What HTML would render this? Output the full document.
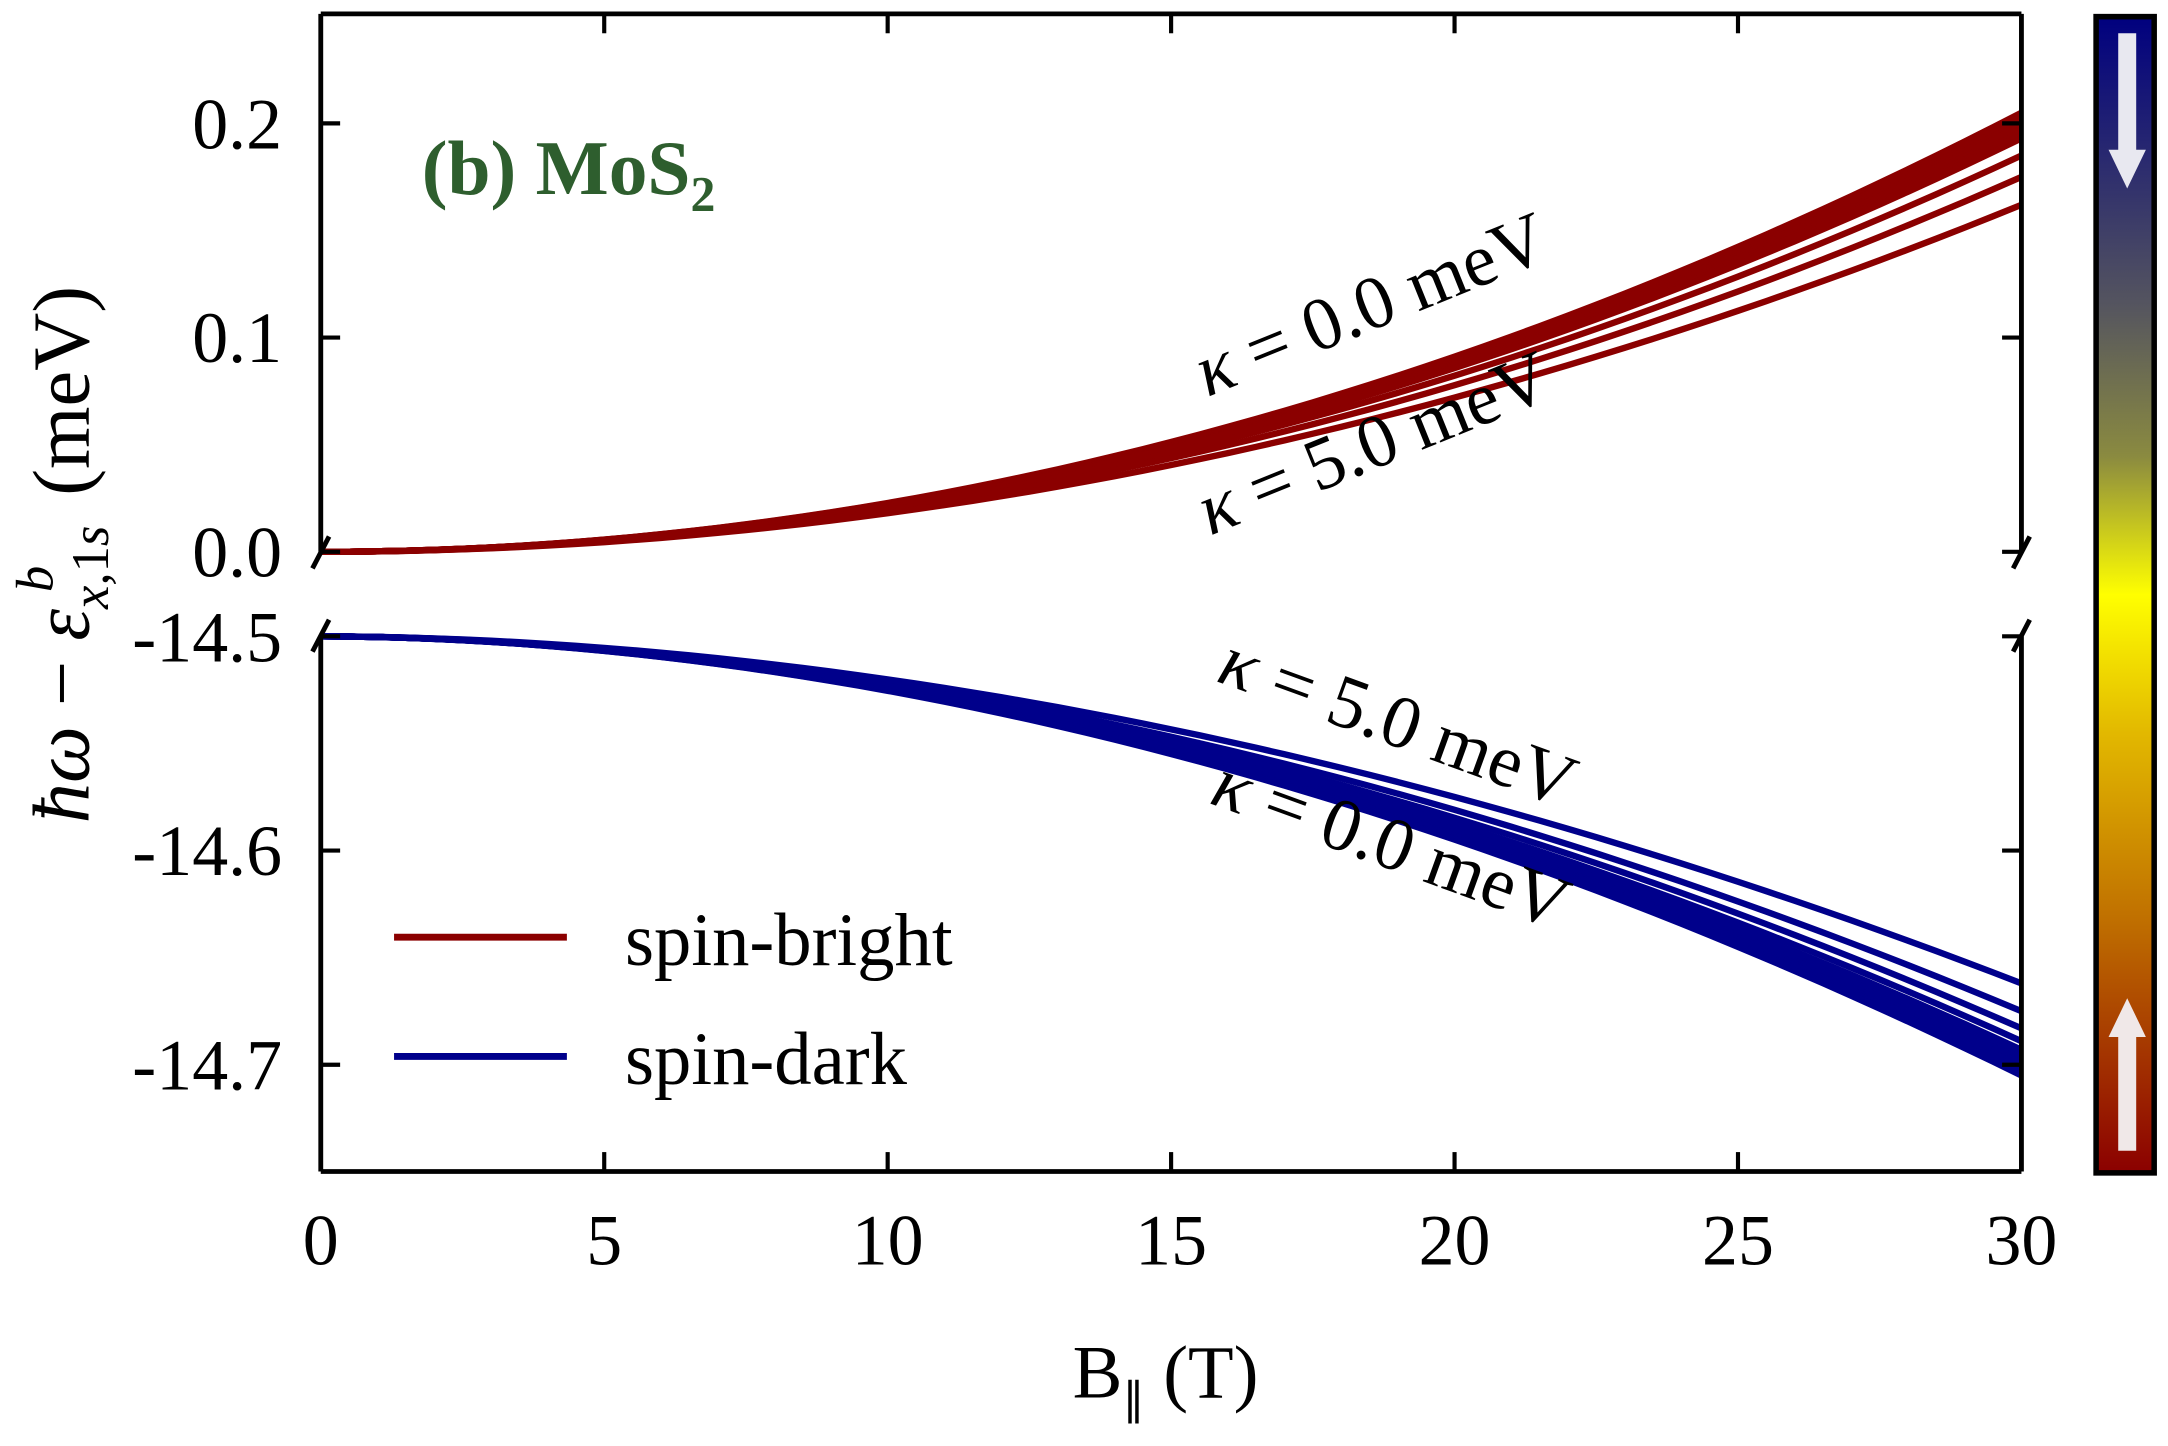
<!DOCTYPE html>
<html><head><meta charset="utf-8"><style>
html,body{margin:0;padding:0;background:#fff}
svg{display:block}
text{font-family:"Liberation Serif",serif;fill:#000}
</style></head><body>
<svg id="s" width="2168" height="1446" viewBox="0 0 1568 1043" preserveAspectRatio="none" xmlns="http://www.w3.org/2000/svg">
<defs>
<linearGradient id="cb" x1="0" y1="0" x2="0" y2="1">
<stop offset="0" stop-color="#00007f"/>
<stop offset="0.25" stop-color="#55555f"/>
<stop offset="0.38" stop-color="#8a8a40"/>
<stop offset="0.5" stop-color="#ffff00"/>
<stop offset="0.62" stop-color="#e2b800"/>
<stop offset="0.78" stop-color="#c07000"/>
<stop offset="1" stop-color="#8b0000"/>
</linearGradient>
</defs>
<g id="curves"></g>
<g stroke="#000" stroke-width="3.5" fill="none">
<line x1="232" y1="10" x2="1462" y2="10"/>
<line x1="232" y1="845" x2="1462" y2="845"/>
<line x1="232" y1="10" x2="232" y2="398"/>
<line x1="232" y1="459" x2="232" y2="845"/>
<line x1="1462" y1="10" x2="1462" y2="398"/>
<line x1="1462" y1="459" x2="1462" y2="845"/>
<line x1="226" y1="410" x2="238" y2="387"/>
<line x1="226" y1="470" x2="238" y2="447"/>
<line x1="1456" y1="410" x2="1468" y2="387"/>
<line x1="1456" y1="470" x2="1468" y2="447"/>
</g>
<g id="ticks" stroke="#000" stroke-width="3"></g>
<g font-size="52" text-anchor="end">
<text x="204" y="107">0.2</text>
<text x="204" y="261">0.1</text>
<text x="204" y="416">0.0</text>
<text x="204" y="477">-14.5</text>
<text x="204" y="631">-14.6</text>
<text x="204" y="786">-14.7</text>
</g>
<g font-size="52" text-anchor="middle">
<text x="232" y="912">0</text>
<text x="437" y="912">5</text>
<text x="642" y="912">10</text>
<text x="847" y="912">15</text>
<text x="1052" y="912">20</text>
<text x="1257" y="912">25</text>
<text x="1462" y="912">30</text>
<text x="843" y="1008" font-size="54">B<tspan font-size="32" dy="12">∥</tspan><tspan dy="-12"> (T)</tspan></text>
</g>
<text transform="translate(64,400) rotate(-90)" font-size="58" text-anchor="middle"><tspan font-style="italic">ħω</tspan> − <tspan font-style="italic">ε</tspan><tspan font-size="38" font-style="italic" dy="14">x,</tspan><tspan font-size="38">1</tspan><tspan font-size="38" font-style="italic">s</tspan><tspan font-size="38" font-style="italic" dy="-40" dx="-48">b</tspan><tspan dy="26" dx="36"> (meV)</tspan></text>
<text x="305" y="140" font-size="56" font-weight="bold" style="fill:#2e5e2e">(b) MoS<tspan font-size="36" dy="12">2</tspan></text>
<g font-size="54">
<text transform="translate(998,236) rotate(-22)" text-anchor="middle"><tspan font-style="italic">κ</tspan> = 0.0 meV</text>
<text transform="translate(1000,336) rotate(-22)" text-anchor="middle"><tspan font-style="italic">κ</tspan> = 5.0 meV</text>
<text transform="translate(1005,537) rotate(20)" text-anchor="middle"><tspan font-style="italic">κ</tspan> = 5.0 meV</text>
<text transform="translate(1000,625) rotate(20)" text-anchor="middle"><tspan font-style="italic">κ</tspan> = 0.0 meV</text>
</g>
<line x1="285" y1="676" x2="410" y2="676" stroke="#8b0000" stroke-width="5"/>
<line x1="285" y1="762" x2="410" y2="762" stroke="#00008b" stroke-width="5"/>
<text x="452" y="696" font-size="54">spin-bright</text>
<text x="452" y="782" font-size="54">spin-dark</text>
<rect x="1516" y="12" width="42" height="834" fill="url(#cb)" stroke="#000" stroke-width="4"/>
<polygon points="1532,24 1545,24 1545,108 1552,108 1538.5,136 1525,108 1532,108" fill="#e8e8f0"/>
<polygon points="1532,830 1545,830 1545,748 1552,748 1538.5,720 1525,748 1532,748" fill="#f0e8e8"/>
</svg>
<script>
(function(){
var ns="http://www.w3.org/2000/svg";
var g=document.getElementById('curves');
function X(b){return 232+b*41;}
var ups=[0.205,0.2035,0.202,0.2005,0.199,0.1975,0.196,0.1945,0.193,0.185,0.175,0.162];
var dns=[-14.705,-14.7035,-14.702,-14.7005,-14.699,-14.6975,-14.696,-14.6945,-14.693,-14.689,-14.683,-14.675,-14.662];
function mk(f,col){var d="";for(var i=0;i<=60;i++){var b=i*0.5;d+=(i?"L":"M")+X(b).toFixed(1)+","+f(b).toFixed(2);}
var p=document.createElementNS(ns,"path");p.setAttribute("d",d);p.setAttribute("fill","none");p.setAttribute("stroke",col);p.setAttribute("stroke-width","4.6");g.appendChild(p);}
ups.forEach(function(v){mk(function(b){var t=b/30;return 398-v*t*t*1545;},"#8b0000");});
dns.forEach(function(v){var a=-14.5-v;mk(function(b){var t=b/30;return 459+a*Math.pow(t,1.9)*1545;},"#00008b");});
var tk=document.getElementById('ticks');
function ln(x1,y1,x2,y2){var l=document.createElementNS(ns,"line");l.setAttribute("x1",x1);l.setAttribute("y1",y1);l.setAttribute("x2",x2);l.setAttribute("y2",y2);tk.appendChild(l);}
[89,243.5,398,459,613.5,768].forEach(function(y){ln(232,y,246,y);ln(1448,y,1462,y);});
[5,10,15,20,25].forEach(function(b){var x=X(b);ln(x,845,x,831);ln(x,10,x,24);});
})();
</script>
</body></html>
